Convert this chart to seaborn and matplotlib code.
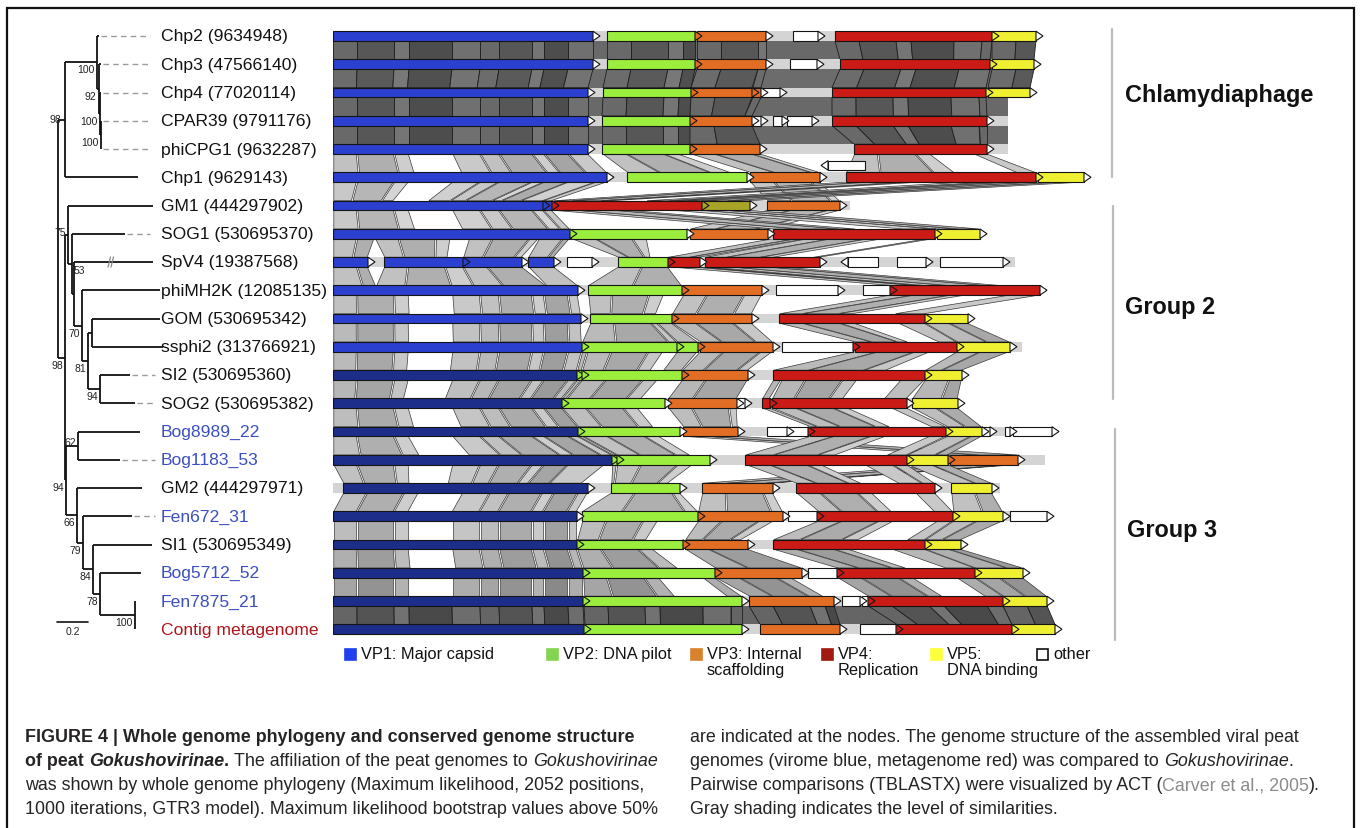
import matplotlib
matplotlib.use("Agg")
import matplotlib.pyplot as plt
from matplotlib.patches import Polygon, Rectangle
import seaborn as sns

sns.set_theme(style="white")
plt.rcParams['font.family'] = ['Liberation Sans', 'DejaVu Sans']

W, H = 1361, 829

# ---------------------------------------------------------------- data
names = ["Chp2 (9634948)", "Chp3 (47566140)", "Chp4 (77020114)", "CPAR39 (9791176)",
         "phiCPG1 (9632287)", "Chp1 (9629143)", "GM1 (444297902)", "SOG1 (530695370)",
         "SpV4 (19387568)", "phiMH2K (12085135)", "GOM (530695342)", "ssphi2 (313766921)",
         "SI2 (530695360)", "SOG2 (530695382)", "Bog8989_22", "Bog1183_53",
         "GM2 (444297971)", "Fen672_31", "SI1 (530695349)", "Bog5712_52",
         "Fen7875_21", "Contig metagenome"]
source = ["ref"] * 14 + ["virome", "virome", "ref", "virome", "ref", "virome", "virome", "metagenome"]

# genes: (start, end, protein[, strand, lane]) in map units along each genome
g_chp2 = [(0, 260, 'VP1'), (274, 362, 'VP2'), (364, 433, 'VP3'), (460, 485, 'other'), (502, 659, 'VP4'), (659, 703, 'VP5')]
g_chp3 = [(0, 260, 'VP1'), (274, 362, 'VP2'), (364, 433, 'VP3'), (457, 484, 'other'), (507, 657, 'VP4'), (659, 701, 'VP5')]
g_chp4 = [(0, 255, 'VP1'), (270, 358, 'VP2'), (358, 419, 'VP3'), (420, 428, 'VP3'), (429, 447, 'other'), (499, 653, 'VP4'), (655, 697, 'VP5')]
g_cpar39 = [(0, 255, 'VP1'), (269, 357, 'VP2'), (357, 419, 'VP3'), (420, 428, 'other'), (440, 449, 'other'), (454, 479, 'other'), (499, 654, 'VP4')]
g_phicpg1 = [(0, 255, 'VP1'), (269, 357, 'VP2'), (357, 427, 'VP3'), (521, 654, 'VP4')]
g_chp1 = [(0, 274, 'VP1'), (294, 414, 'VP2'), (417, 487, 'VP3'), (495, 532, 'other', -1, 1), (513, 703, 'VP4'), (705, 751, 'VP5')]
g_gm1 = [(0, 210, 'VP1'), (210, 219, 'VP1'), (220, 369, 'VP4'), (369, 417, 'VP5o'), (434, 507, 'VP3')]
g_sog1 = [(0, 237, 'VP1'), (238, 354, 'VP2'), (357, 435, 'VP3'), (440, 602, 'VP4'), (604, 647, 'VP5')]
g_spv4 = [(0, 35, 'VP1'), (51, 130, 'VP1'), (130, 189, 'VP1'), (195, 221, 'VP1'), (234, 259, 'other'), (285, 335, 'VP2'),
          (335, 367, 'VP4'), (372, 487, 'VP4'), (515, 545, 'other', -1), (564, 593, 'other'), (607, 670, 'other')]
g_phimh2k = [(0, 245, 'VP1'), (255, 349, 'VP2'), (350, 429, 'VP3'), (443, 505, 'other'), (530, 557, 'other'), (557, 707, 'VP4')]
g_gom = [(0, 248, 'VP1'), (257, 339, 'VP2'), (339, 419, 'VP3'), (446, 592, 'VP4'), (592, 635, 'VP5')]
g_ssphi2 = [(0, 249, 'VP1'), (249, 344, 'VP2'), (344, 365, 'VP2'), (367, 440, 'VP3'), (449, 520, 'other'), (522, 624, 'VP4'), (624, 677, 'VP5')]
g_si2 = [(0, 244, 'VP1'), (244, 249, 'VP2'), (249, 349, 'VP2'), (349, 415, 'VP3'), (440, 592, 'VP4'), (592, 629, 'VP5')]
g_sog2 = [(0, 229, 'VP1'), (229, 332, 'VP2'), (335, 404, 'VP3'), (404, 412, 'other'), (429, 437, 'VP4'), (439, 574, 'VP4'), (579, 625, 'VP5')]
g_bog8989 = [(0, 245, 'VP1'), (245, 347, 'VP2'), (350, 405, 'VP3'), (434, 454, 'other'), (455, 475, 'other'), (477, 613, 'VP4'),
             (614, 649, 'VP5'), (649, 657, 'other'), (672, 677, 'other'), (680, 719, 'other')]
g_bog1183 = [(0, 279, 'VP1'), (279, 284, 'VP2'), (284, 377, 'VP2'), (412, 574, 'VP4'), (574, 615, 'VP5'), (617, 685, 'VP3')]
g_gm2 = [(10, 255, 'VP1'), (278, 347, 'VP2'), (369, 440, 'VP3'), (463, 602, 'VP4'), (618, 659, 'VP5')]
g_fen672 = [(0, 244, 'VP1'), (249, 365, 'VP2'), (365, 450, 'VP3'), (455, 484, 'other'), (485, 620, 'VP4'), (620, 670, 'VP5'), (677, 714, 'other')]
g_si1 = [(0, 244, 'VP1'), (244, 350, 'VP2'), (352, 415, 'VP3'), (440, 592, 'VP4'), (592, 628, 'VP5')]
g_bog5712 = [(0, 250, 'VP1'), (250, 382, 'VP2'), (382, 469, 'VP3'), (475, 504, 'other'), (504, 642, 'VP4'), (642, 690, 'VP5')]
g_fen7875 = [(0, 250, 'VP1'), (251, 409, 'VP2'), (416, 501, 'VP3'), (509, 527, 'other'), (529, 535, 'other'), (535, 670, 'VP4'), (670, 714, 'VP5')]
g_contig = [(0, 251, 'VP1'), (252, 409, 'VP2'), (427, 507, 'VP3'), (527, 563, 'other'), (564, 679, 'VP4'), (679, 722, 'VP5')]

genomes = [g_chp2, g_chp3, g_chp4, g_cpar39, g_phicpg1, g_chp1, g_gm1, g_sog1, g_spv4, g_phimh2k, g_gom,
           g_ssphi2, g_si2, g_sog2, g_bog8989, g_bog1183, g_gm2, g_fen672, g_si1, g_bog5712, g_fen7875, g_contig]
genome_len = [703, 701, 697, 675, 675, 751, 517, 647, 682, 707, 635, 689, 629, 625, 719, 712, 667, 714, 628, 690, 714, 722]

# similarity (TBLASTX) between consecutive genomes, 0..1
pair_similarity = [0.95, 0.93, 0.95, 0.95, 0.35, 0.3, 0.3, 0.35, 0.35, 0.35, 0.4, 0.4, 0.42, 0.38,
                   0.35, 0.35, 0.35, 0.38, 0.48, 0.55, 0.97]

# phylogeny: internal node -> (depth, children, bootstrap); ints are tips (rows)
tree_nodes = {
    'root': (58, ['chp', 'low'], None),
    'chp': (65, ['chpSub', 5], 98),
    'chpSub': (97, [0, 'c100a'], 100),
    'c100a': (98.5, [1, 'c92'], 92),
    'c92': (99.5, [2, 'c100b'], 100),
    'c100b': (100.5, [3, 4], 100),
    'low': (65, ['g2', 'g3'], 98),
    'g2': (68, [6, 'n53'], 75),
    'n53': (72, [7, 'nX'], 53),
    'nX': (73.5, [8, 'n70'], None),
    'n70': (82, [9, 'n81'], 70),
    'n81': (88, ['nGS', 'n94b'], 81),
    'nGS': (92, [10, 11], None),
    'n94b': (100, [12, 13], 94),
    'g3': (66, ['n62', 'n66'], 94),
    'n62': (78, [14, 15], 62),
    'n66': (77, [16, 'n79'], 66),
    'n79': (83, [17, 'n84'], 79),
    'n84': (93, [18, 'n78'], 84),
    'n78': (100, [19, 'n100c'], 78),
    'n100c': (135, [20, 21], 100),
}
tip_depth = [99, 101, 101, 101, 101, 138, 153, 125, 153, 160, 160, 163, 130, 135, 140, 120, 142, 132, 152, 141, 135, 135]
tip_dash_to = [150, 150, 150, 150, 150, None, None, 150, None, None, None, None, 155, 155, None, 155, None, 155,
               None, None, None, None]

legend_labels = ["VP1: Major capsid", "VP2: DNA pilot", "VP3: Internal\nscaffolding", "VP4:\nReplication",
                 "VP5:\nDNA binding", "other"]
group_names = ["Chlamydiaphage", "Group 2", "Group 3"]

caption_left = [
    [("FIGURE 4 | Whole genome phylogeny and conserved genome structure", "b")],
    [("of peat ", "b"), ("Gokushovirinae", "bi"), (".", "b"), (" The affiliation of the peat genomes to ", ""),
     ("Gokushovirinae", "i")],
    [("was shown by whole genome phylogeny (Maximum likelihood, 2052 positions,", "")],
    [("1000 iterations, GTR3 model). Maximum likelihood bootstrap values above 50%", "")],
]
caption_right = [
    [("are indicated at the nodes. The genome structure of the assembled viral peat", "")],
    [("genomes (virome blue, metagenome red) was compared to ", ""), ("Gokushovirinae", "i"), (".", "")],
    [("Pairwise comparisons (TBLASTX) were visualized by ACT (", ""), ("Carver et al., 2005", "g"), (").", "")],
    [("Gray shading indicates the level of similarities.", "")],
]

# ---------------------------------------------------------------- style
gene_colors = {'VP1': '#2b40cf', 'VP1d': '#1d2d8a', 'VP2': '#9bee3d', 'VP3': '#e26d25',
               'VP4': '#cb1b16', 'VP5': '#eff032', 'VP5o': '#a7a427', 'other': '#ffffff'}
legend_colors = ['#2040f0', '#84d452', '#d8832c', '#a01a12', '#ffff3c', '#ffffff']
label_colors = {'ref': '#111111', 'virome': '#3b4fc2', 'metagenome': '#b0141a'}
backbone_color = '#d4d4d4'

ROW0, ROWSTEP = 37.0, 28.25
y_top_idx = -ROW0 / ROWSTEP
y_bot_idx = (H - ROW0) / ROWSTEP
HH = 4.8 / ROWSTEP  # half bar height in row units
GENOME_X0 = 333
GENOME_W = 767
TRI = 7

fig = plt.figure(figsize=(W / 100, H / 100), dpi=100)
ax_t = fig.add_axes([0, 0, GENOME_X0 / W, 1])
ax_g = fig.add_axes([GENOME_X0 / W, 0, GENOME_W / W, 1])
ax_o = fig.add_axes([0, 0, 1, 1])
for a in (ax_t, ax_g, ax_o):
    a.set_axis_off()
    a.patch.set_alpha(0)
ax_t.set_xlim(0, GENOME_X0)
ax_t.set_ylim(y_bot_idx, y_top_idx)
ax_g.set_xlim(0, GENOME_W)
ax_g.set_ylim(y_bot_idx, y_top_idx)
ax_o.set_xlim(0, W)
ax_o.set_ylim(H, 0)


def homolog(kind):
    return 'VP5' if kind == 'VP5o' else kind


def pieces(genes, key):
    ps = [(g[0], g[1]) for g in genes if homolog(g[2]) == key and (len(g) < 5 or g[4] == 0)]
    tot = sum(e - s for s, e in ps)
    out, c = [], 0.0
    for s, e in ps:
        out.append((c / tot, (c + e - s) / tot, s, e))
        c += e - s
    return out


steps = [24, 37, 15, 43, 28, 19, 33, 12]
shade_var = [0.0, -0.07, 0.05, -0.11, 0.03]


def seg_fracs(length):
    fr, pos, k = [0.0], 0.0, 0
    while True:
        pos += steps[k % len(steps)]
        k += 1
        if pos >= length - 6:
            break
        fr.append(pos / length)
    fr.append(1.0)
    return fr


def gray(L):
    L = min(max(L, 0.2), 0.92)
    return (L, L, L)


# ------------------------------------------------ similarity shading
for i, sim in enumerate(pair_similarity):
    yt, yb = i + HH, i + 1 - HH
    dark = sim > 0.8
    base = (0.98 - 0.6 * sim) if dark else (0.95 - 0.55 * sim)
    if dark:
        m = min(genome_len[i], genome_len[i + 1])
        ax_g.add_patch(Polygon([(0, yt), (m, yt), (m, yb), (0, yb)], closed=True,
                               facecolor=gray(base), edgecolor='none', zorder=1))
    for key in ['VP1', 'VP2', 'VP3', 'VP4', 'VP5']:
        pa, pb = pieces(genomes[i], key), pieces(genomes[i + 1], key)
        if not pa or not pb:
            continue
        for fa0, fa1, sa, ea in pa:
            for fb0, fb1, sb, eb in pb:
                f0, f1 = max(fa0, fb0), min(fa1, fb1)
                if f1 <= f0:
                    continue
                t0 = sa + (f0 - fa0) / (fa1 - fa0) * (ea - sa)
                t1 = sa + (f1 - fa0) / (fa1 - fa0) * (ea - sa)
                b0 = sb + (f0 - fb0) / (fb1 - fb0) * (eb - sb)
                b1 = sb + (f1 - fb0) / (fb1 - fb0) * (eb - sb)
                fr = seg_fracs(max(t1 - t0, 1))
                for j in range(len(fr) - 1):
                    if not dark and j % 7 == 3:
                        continue
                    xa0 = t0 + fr[j] * (t1 - t0)
                    xa1 = t0 + fr[j + 1] * (t1 - t0)
                    xb0 = b0 + fr[j] * (b1 - b0)
                    xb1 = b0 + fr[j + 1] * (b1 - b0)
                    g = 0.0 if dark else 0.8
                    poly = [(xa0 + g, yt), (xa1 - g, yt), (xb1 - g, yb), (xb0 + g, yb)]
                    ax_g.add_patch(Polygon(poly, closed=True,
                                           facecolor=gray(base + shade_var[j % len(shade_var)]),
                                           edgecolor='#1e1e1e' if dark else '#3a3a3a',
                                           linewidth=0.6 if dark else 0.5, zorder=1.5))

# ------------------------------------------------ genome maps
for i, genes in enumerate(genomes):
    ax_g.barh(i, genome_len[i], left=0, height=2 * HH, color=backbone_color, linewidth=0, zorder=2)
    for g in genes:
        s, e, kind = g[0], g[1], g[2]
        strand = g[3] if len(g) > 3 else 1
        lane = g[4] if len(g) > 4 else 0
        y = i - lane * 0.42
        col = gene_colors['VP1d'] if (kind == 'VP1' and i >= 12) else gene_colors[kind]
        ax_g.barh(y, e - s, left=s, height=2 * HH, color=col, edgecolor='#151515', linewidth=0.8, zorder=3)
        # orientation arrowhead
        if strand == 1:
            fill = '#ffffff'
            for h in genes:
                if h is not g and h[0] <= e + 2 < h[1] and (len(h) < 5 or h[4] == lane):
                    fill = gene_colors['VP1d'] if (h[2] == 'VP1' and i >= 12) else gene_colors[h[2]]
            tri = [(e, y - HH), (e, y + HH), (e + TRI, y)]
        else:
            fill = '#ffffff'
            tri = [(s, y - HH), (s, y + HH), (s - TRI, y)]
        ax_g.add_patch(Polygon(tri, closed=True, facecolor=fill, edgecolor='#151515', linewidth=0.8, zorder=4))

# ------------------------------------------------ tree
ypos = {}


def node_y(n):
    if isinstance(n, int):
        return float(n)
    if n in ypos:
        return ypos[n]
    x, ch, bs = tree_nodes[n]
    ys = [node_y(c) for c in ch]
    ypos[n] = (min(ys) + max(ys)) / 2
    return ypos[n]


def node_x(n):
    return tip_depth[n] if isinstance(n, int) else tree_nodes[n][0]


bs_offsets = {'chp': (-4, -1, 'right'), 'g2': (-2, -3, 'right'), 'n62': (-2, -4, 'right'), 'n53': (2, 6, 'left')}
lw_tree = 1.3
for n, (x, ch, bs) in tree_nodes.items():
    y = node_y(n)
    ys = [node_y(c) for c in ch]
    ax_t.plot([x, x], [min(ys), max(ys)], color='#111', lw=lw_tree, solid_capstyle='butt', zorder=3)
    for c in ch:
        ax_t.plot([x, node_x(c)], [node_y(c)] * 2, color='#111', lw=lw_tree, solid_capstyle='butt', zorder=3)
    if bs is not None:
        dx, dy, ha = bs_offsets.get(n, (-2, 7, 'right'))
        ax_t.text(x + dx, y + dy / ROWSTEP, str(bs), fontsize=7.5, ha=ha, va='center', color='#222')

for i, nm in enumerate(names):
    if tip_dash_to[i] is not None:
        ax_t.plot([tip_depth[i] + 2, tip_dash_to[i]], [i, i], color='#9a9a9a', lw=1.0, dashes=(4, 3), zorder=2)
    ax_t.text(161, i, nm, fontsize=12.6, ha='left', va='center', color=label_colors[source[i]])

# break mark on SpV4 branch
for dx in (0, 3):
    ax_t.plot([108 + dx, 110.5 + dx], [8 + 0.18, 8 - 0.18], color='#888', lw=0.9, zorder=4)

# scale bar (0.2 substitutions per site)
sb_y = (623 - ROW0) / ROWSTEP
ax_t.plot([57, 88], [sb_y, sb_y], color='#111', lw=1.2)
ax_t.text(72.5, sb_y + 9 / ROWSTEP, "0.2", fontsize=7.5, ha='center', va='center', color='#222')

# ------------------------------------------------ overlay: groups, legend, frame, caption
for (x, y0, y1), name, (tx, ty) in zip([(1112, 30, 178), (1113, 207, 400), (1115, 430, 641)], group_names,
                                       [(1125, 95), (1125, 307), (1127, 531)]):
    ax_o.plot([x, x], [y0, y1], color='#bcbcbc', lw=1.6)
    ax_o.text(tx, ty, name, fontsize=16.9, fontweight='bold', ha='left', va='center', color='#111')

for lab, col, x in zip(legend_labels, legend_colors, [345, 547, 691, 822, 931, 1037]):
    ax_o.add_patch(Rectangle((x, 650), 11, 11, facecolor=col,
                             edgecolor='#111' if col == '#ffffff' else col, linewidth=1.2))
    ax_o.text(x + 16, 647, lab, fontsize=11.8, ha='left', va='top', linespacing=1.12, color='#111')

ax_o.plot([7, 7, 1354.5, 1354.5], [H, 9, 9, H], color='#111', lw=1.6, solid_joinstyle='miter')

renderer = fig.canvas.get_renderer()
CAP_SIZE = 12.9
space_w = 0.278 * CAP_SIZE * 100 / 72


def draw_runs(x, y, runs):
    for txt, st in runs:
        lead = len(txt) - len(txt.lstrip(' '))
        trail = len(txt) - len(txt.rstrip(' '))
        x += lead * space_w
        kw = dict(fontsize=CAP_SIZE, ha='left', va='center', color='#262324')
        if 'b' in st:
            kw['fontweight'] = 'bold'
        if 'i' in st:
            kw['fontstyle'] = 'italic'
        if 'g' in st:
            kw['color'] = '#8c8c8c'
        t = ax_o.text(x, y, txt.strip(' '), **kw)
        x += t.get_window_extent(renderer=renderer).width + trail * space_w


for k, (l, r) in enumerate(zip(caption_left, caption_right)):
    y = 738 + 24 * k
    draw_runs(25, y, l)
    draw_runs(690, y, r)

fig.savefig("out.png", dpi=100)
